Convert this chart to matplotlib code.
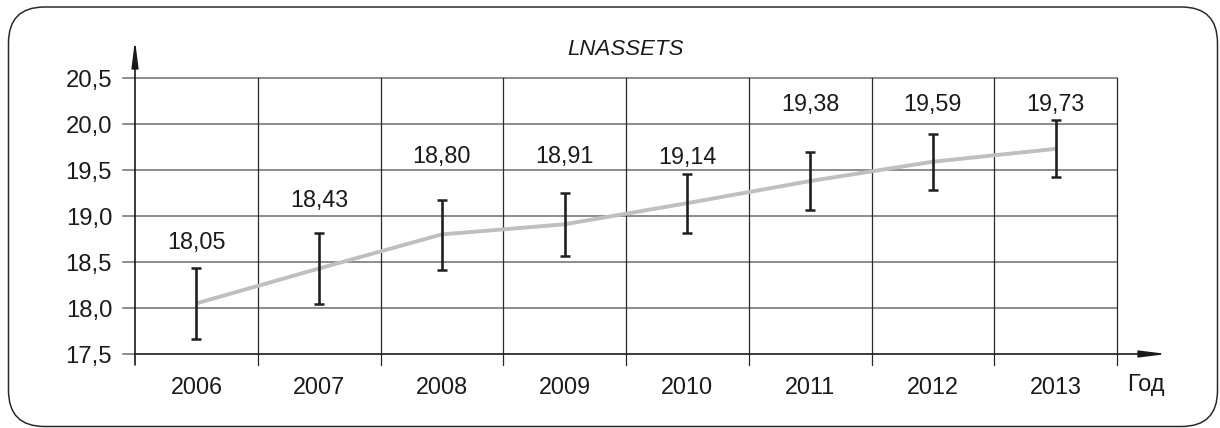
import numpy as np
import matplotlib
matplotlib.use("Agg")
import matplotlib.pyplot as plt
from matplotlib.patches import FancyBboxPatch
from matplotlib.transforms import IdentityTransform
from matplotlib.ticker import FuncFormatter

plt.rcParams["font.family"] = ["Liberation Sans", "DejaVu Sans"]

# Data
years = ["2006", "2007", "2008", "2009", "2010", "2011", "2012", "2013"]
means = [18.05, 18.43, 18.80, 18.91, 19.14, 19.38, 19.59, 19.73]
lower = [17.66, 18.04, 18.41, 18.56, 18.81, 19.07, 19.28, 19.42]
upper = [18.44, 18.81, 19.17, 19.25, 19.46, 19.70, 19.89, 20.04]
label_y = [18.71, 19.17, 19.65, 19.65, 19.64, 20.21, 20.21, 20.21]
yticks = [17.5, 18.0, 18.5, 19.0, 19.5, 20.0, 20.5]

# === PLOT
fig = plt.figure(figsize=(12.2, 4.28), dpi=100)
ax = fig.add_axes([135 / 1220, 74 / 428, 982 / 1220, 276 / 428])

x = np.arange(len(years))
means = np.array(means)
yerr = [means - np.array(lower), np.array(upper) - means]

ax.plot(x, means, color="#bfbfc3", lw=2.8, solid_capstyle="butt", zorder=3)
ax.errorbar(x, means, yerr=yerr, fmt="none", ecolor="#231f20",
            elinewidth=1.9, capsize=3.8, capthick=1.8, zorder=4)

for xi, m, ly in zip(x, means, label_y):
    ax.text(xi, ly, f"{m:.2f}".replace(".", ","), ha="center", va="center",
            fontsize=16.8, color="#1c1a1b", zorder=5)

ax.set_xlim(-0.5, len(years) - 0.5)
ax.set_ylim(yticks[0], yticks[-1])

# Grid: horizontal lines with short stubs left of the axis
ytr = ax.get_yaxis_transform()
for yv in yticks[1:]:
    ax.plot([-12 / 982, 1], [yv, yv], transform=ytr, color="#6e6e6e",
            lw=1.1, clip_on=False, zorder=1)
ax.plot([-12 / 982, 0], [yticks[0], yticks[0]], transform=ytr,
        color="#6e6e6e", lw=1.1, clip_on=False, zorder=1)

# Grid: vertical category boundaries running slightly below the axis
xtr = ax.get_xaxis_transform()
for xb in np.arange(0.5, len(years), 1.0):
    ax.plot([xb, xb], [-11 / 276, 1], transform=xtr, color="#2a2a2a",
            lw=0.9, clip_on=False, zorder=1)

# Axes with arrows
arrow = dict(arrowstyle="-|>,head_length=1.6,head_width=0.2", color="#1a1a1a",
             lw=1.2, shrinkA=0, shrinkB=0, mutation_scale=10)
ax.annotate("", xy=(0, 1.138), xytext=(0, -11 / 276), xycoords="axes fraction",
            arrowprops=arrow, annotation_clip=False)
ax.annotate("", xy=(1.051, 0), xytext=(0, 0), xycoords="axes fraction",
            arrowprops=arrow, annotation_clip=False)

for s in ax.spines.values():
    s.set_visible(False)

ax.set_yticks(yticks)
ax.yaxis.set_major_formatter(FuncFormatter(lambda v, p: f"{v:.1f}".replace(".", ",")))
ax.tick_params(axis="y", length=0, pad=16.5, labelsize=17.2, labelcolor="#1c1a1b")
ax.set_xticks(x)
ax.set_xticklabels(years)
ax.tick_params(axis="x", length=0, pad=15.5, labelsize=16.8, labelcolor="#1c1a1b")

ax.text(0.5, 1.105, "LNASSETS", transform=ax.transAxes, ha="center",
        va="center", fontsize=16, style="italic", color="#1c1a1b")
ax.text(1.029, -31 / 276, "Год", transform=ax.transAxes, ha="center",
        va="center", fontsize=17, color="#1c1a1b")

# Rounded frame round the whole figure
frame = FancyBboxPatch((8.5, 1.5), 1209, 419.5,
                       boxstyle="round,pad=0,rounding_size=36",
                       transform=IdentityTransform(), fill=False,
                       ec="#2a2a2a", lw=1.1)
fig.add_artist(frame)

plt.savefig("out.png", dpi=100)
